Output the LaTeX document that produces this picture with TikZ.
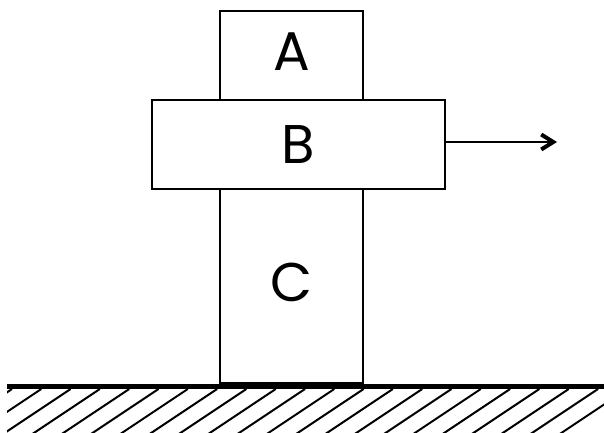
\documentclass[tikz,border=0pt]{standalone}
\usepackage{fontspec}
\setmainfont{Poppins}
\usetikzlibrary{arrows.meta}
\newcommand{\blockFont}[0]{\fontsize{31}{36}\selectfont}

\begin{document}
\begin{tikzpicture}[x=0.02cm, y=-0.02cm]
  \tikzset{block/.style={draw, line width=0.04cm, inner sep=0pt, outer sep=0pt,
      minimum width=2.86cm, minimum height=1.78cm, font=\blockFont}}
  \useasboundingbox (0,0) rectangle (604,432);
  % blocks
  \node[block] (blockA) at (291.5,55.5) {\raisebox{0.14cm}{A}};
  \node[block, minimum width=5.86cm] (blockB) at (298.5,144.5) {B};
  \node[block, minimum height=3.88cm] (blockC) at (291.5,286) {\raisebox{0.14cm}{C}};
  % pulling force
  \coordinate (pull) at (557,142);
  \draw[line width=0.04cm, -{Straight Barb[length=0.24cm, width=0.3cm, line width=0.08cm]}]
    (blockB.east |- pull) -- (pull);
  % ground
  \coordinate (groundL) at (7,386);
  \coordinate (groundR) at (604,386);
  \begin{scope}
    \clip (7,388) rectangle (604,432);
    \foreach \k in {-3,...,21}
      \draw[line width=0.04cm] (12+29.3*\k,389) -- ++(-90,60);
  \end{scope}
  \draw[line width=0.1cm] (groundL) -- (groundR);
\end{tikzpicture}
\end{document}
